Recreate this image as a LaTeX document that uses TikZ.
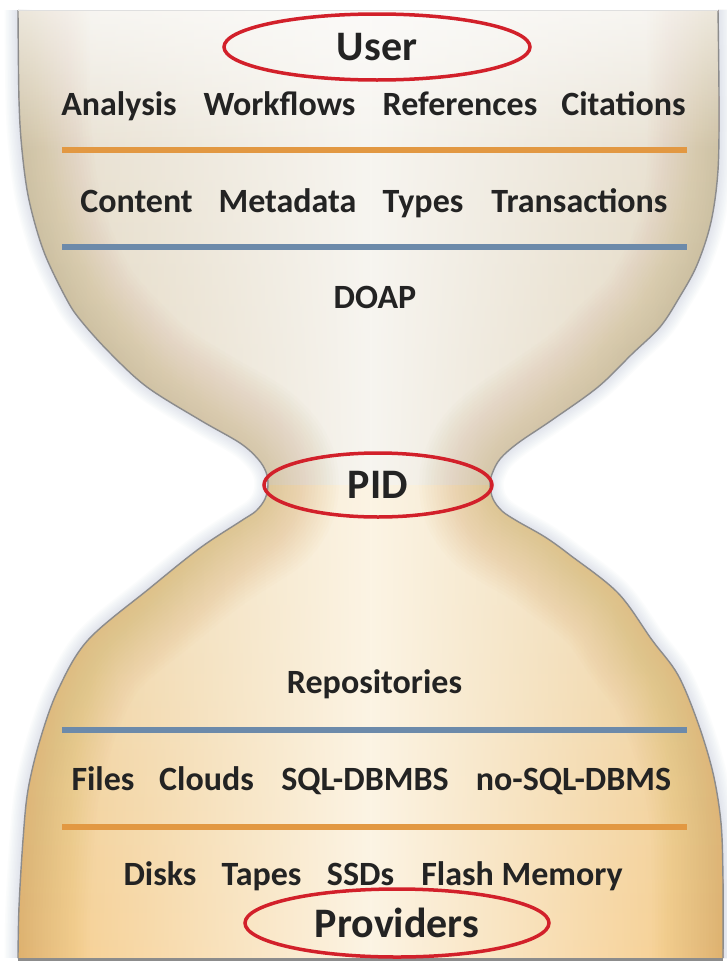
\documentclass[tikz,border=0pt]{standalone}
\usepackage{fontspec}
\setmainfont{Carlito}
\usetikzlibrary{shapes.geometric,fadings}

\definecolor{txt}{RGB}{35,35,35}
\definecolor{redring}{RGB}{210,32,42}
\definecolor{orangeline}{RGB}{226,152,66}
\definecolor{blueline}{RGB}{108,138,170}
\definecolor{uptop}{RGB}{234,229,218}
\definecolor{upbot}{RGB}{222,206,175}
\definecolor{upmid}{RGB}{247,245,240}
\definecolor{uptan}{RGB}{200,178,138}
\definecolor{lotop}{RGB}{232,212,172}
\definecolor{lobot}{RGB}{246,202,134}
\definecolor{lomid}{RGB}{252,244,228}
\definecolor{lotan}{RGB}{222,176,105}
\definecolor{outlinec}{RGB}{140,140,140}
\definecolor{shadowc}{RGB}{160,172,196}

\tikzfading[name=midstrip, left color=transparent!100, right color=transparent!100, middle color=transparent!0]

\tikzset{
  word/.style={font=\fontsize{34}{40}\selectfont\bfseries, text=txt, anchor=base, inner sep=0pt},
  ring/.style={ellipse, draw=redring, line width=3.5pt, inner sep=0pt,
    font=\fontsize{42}{48}\selectfont\bfseries, text=txt},
  sepline/.style={line width=5.5pt},
}

\def\rside{plot[smooth,tension=0.55] coordinates {(718,10) (719,100) (718,170) (711,222) (697,265) (679,298) (660,327) (632,354) (598,387) (552,420) (518,443) (500,459) (492,474) (490,485) (493,499) (502,511) (517,521) (545,537) (570,555) (618,593) (652,640) (678,675) (698,723) (713,773) (721,823) (723,880) (723,958)}}
\def\lside{plot[smooth,tension=0.55] coordinates {(18,958) (19,907) (23,840) (28,790) (40,740) (58,690) (88,640) (150,588) (200,548) (241,521) (256,511) (265,499) (268,485) (266,472) (258,459) (240,443) (200,420) (147,387) (110,353) (82,322) (67,300) (44,252) (29,200) (22,150) (19,100) (18,10)}}
\def\fullpath{(18,10) -- plot[smooth,tension=0.55] coordinates {(718,10) (719,100) (718,170) (711,222) (697,265) (679,298) (660,327) (632,354) (598,387) (552,420) (518,443) (500,459) (492,474) (490,485) (493,499) (502,511) (517,521) (545,537) (570,555) (618,593) (652,640) (678,675) (698,723) (713,773) (721,823) (723,880) (723,958)} -- plot[smooth,tension=0.55] coordinates {(18,958) (19,907) (23,840) (28,790) (40,740) (58,690) (88,640) (150,588) (200,548) (241,521) (256,511) (265,499) (268,485) (266,472) (258,459) (240,443) (200,420) (147,387) (110,353) (82,322) (67,300) (44,252) (29,200) (22,150) (19,100) (18,10)} -- cycle}

\begin{document}
\begin{tikzpicture}[x=1pt,y=-1pt]
\useasboundingbox (0,0) rectangle (727,964);
\fill[white] (0,0) rectangle (727,964);

% soft outer shadow
\foreach \w in {3,6,...,27}{
  \draw[shadowc, line width=\w pt, opacity=0.035, line join=round] \rside;
  \draw[shadowc, line width=\w pt, opacity=0.035, line join=round] \lside;
}

% body
\begin{scope}
  \clip \fullpath;
  \begin{scope}
    \clip (0,0) rectangle (727,485);
    \fill[top color=uptop, bottom color=upbot] (0,0) rectangle (727,485);
    \fill[upmid, path fading=midstrip] (18,0) rectangle (723,485);
    \foreach \w in {4,10,...,142}{
      \draw[uptan, line width=\w pt, opacity=0.028] \rside;
      \draw[uptan, line width=\w pt, opacity=0.028] \lside;
    }
    \fill[white, opacity=0.75, path fading=south] (0,-30) rectangle (727,150);
  \end{scope}
  \begin{scope}
    \clip (0,485) rectangle (727,964);
    \fill[top color=lotop, bottom color=lobot] (0,485) rectangle (727,964);
    \fill[lomid, path fading=midstrip] (18,485) rectangle (723,964);
    \foreach \w in {4,10,...,142}{
      \draw[lotan, line width=\w pt, opacity=0.028] \rside;
      \draw[lotan, line width=\w pt, opacity=0.028] \lside;
    }
  \end{scope}
\end{scope}

% outline
\draw[outlinec, line width=1.4pt] \rside;
\draw[outlinec, line width=1.4pt] \lside;
\draw[outlinec, line width=3pt] (18,959) -- (723,959);
\draw[gray!25, line width=1pt] (18,10) -- (718,10);

% separator lines
\draw[orangeline, sepline] (62,150) -- (687,150);
\draw[blueline, sepline] (62,247) -- (687,247);
\draw[blueline, sepline] (62,730) -- (687,730);
\draw[orangeline, sepline] (62,827) -- (687,827);

% ringed labels
\node[ring, minimum width=306pt, minimum height=66pt] (user) at (377,47) {User};
\node[ring, minimum width=228pt, minimum height=64pt] (pid) at (378,485) {PID};
\node[ring, minimum width=304pt, minimum height=68pt] (prov) at (397,923) {Providers};

% row 1
\node[word] (analysis) at (119,115) {Analysis};
\node[word] (workflows) at (279.5,115) {Workflows};
\node[word] (references) at (460,115) {References};
\node[word] (citations) at (623.5,115) {Citations};
% row 2
\node[word] (content) at (136.5,212) {Content};
\node[word] (metadata) at (287.5,212) {Metadata};
\node[word] (types) at (423,212) {Types};
\node[word] (transactions) at (579.5,212) {Transactions};
% DOAP
\node[word] (doap) at (375,308) {DOAP};
% Repositories
\node[word] (repos) at (374.5,693) {Repositories};
% files row
\node[word] (files) at (103,790) {Files};
\node[word] (clouds) at (206.5,790) {Clouds};
\node[word] (sql) at (365,790) {SQL-DBMBS};
\node[word] (nosql) at (573.5,790) {no-SQL-DBMS};
% disks row
\node[word] (disks) at (160,885) {Disks};
\node[word] (tapes) at (261.5,885) {Tapes};
\node[word] (ssds) at (360.5,885) {SSDs};
\node[word] (flash) at (522,885) {Flash Memory};
\end{tikzpicture}
\end{document}
